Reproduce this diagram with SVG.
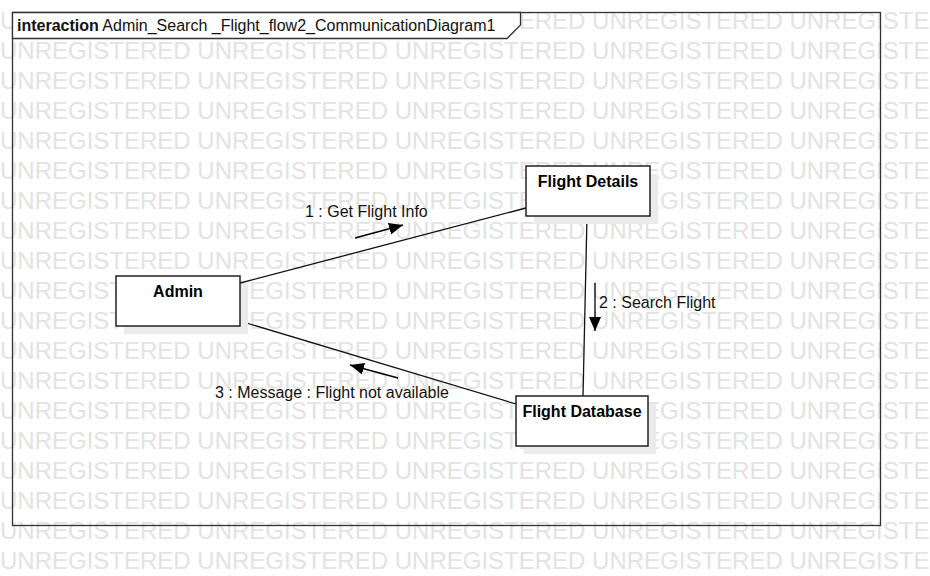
<svg xmlns="http://www.w3.org/2000/svg" width="930" height="576" viewBox="0 0 930 576">
<style>
text{font-family:"Liberation Sans",Arial,sans-serif;}
.wm{font-size:24px;fill:#e3e3e3;}
.box{fill:#fff;stroke:#222;stroke-width:1.5;}
.shadow{fill:#ebebeb;}
.name{font-size:16px;font-weight:bold;fill:#000;text-anchor:middle;}
.lbl{font-size:16px;fill:#111;}
.conn{stroke:#111;stroke-width:1.3;fill:none;}
.msg{stroke:#000;stroke-width:1.3;fill:none;}
</style>
<defs>
<marker id="ah2" viewBox="0 0 14 12" refX="14" refY="6" markerWidth="14" markerHeight="12" markerUnits="userSpaceOnUse" orient="auto">
<path d="M0,0 L14,6 L0,12 Z" fill="#000"/>
</marker>
</defs>
<rect width="930" height="576" fill="#fff"/>
<g id="watermark">
<text class="wm" x="0" y="29">UNREGISTERED UNREGISTERED UNREGISTERED UNREGISTERED UNREGISTERED</text>
<text class="wm" x="0" y="59">UNREGISTERED UNREGISTERED UNREGISTERED UNREGISTERED UNREGISTERED</text>
<text class="wm" x="0" y="89">UNREGISTERED UNREGISTERED UNREGISTERED UNREGISTERED UNREGISTERED</text>
<text class="wm" x="0" y="119">UNREGISTERED UNREGISTERED UNREGISTERED UNREGISTERED UNREGISTERED</text>
<text class="wm" x="0" y="149">UNREGISTERED UNREGISTERED UNREGISTERED UNREGISTERED UNREGISTERED</text>
<text class="wm" x="0" y="179">UNREGISTERED UNREGISTERED UNREGISTERED UNREGISTERED UNREGISTERED</text>
<text class="wm" x="0" y="209">UNREGISTERED UNREGISTERED UNREGISTERED UNREGISTERED UNREGISTERED</text>
<text class="wm" x="0" y="239">UNREGISTERED UNREGISTERED UNREGISTERED UNREGISTERED UNREGISTERED</text>
<text class="wm" x="0" y="269">UNREGISTERED UNREGISTERED UNREGISTERED UNREGISTERED UNREGISTERED</text>
<text class="wm" x="0" y="299">UNREGISTERED UNREGISTERED UNREGISTERED UNREGISTERED UNREGISTERED</text>
<text class="wm" x="0" y="329">UNREGISTERED UNREGISTERED UNREGISTERED UNREGISTERED UNREGISTERED</text>
<text class="wm" x="0" y="359">UNREGISTERED UNREGISTERED UNREGISTERED UNREGISTERED UNREGISTERED</text>
<text class="wm" x="0" y="389">UNREGISTERED UNREGISTERED UNREGISTERED UNREGISTERED UNREGISTERED</text>
<text class="wm" x="0" y="419">UNREGISTERED UNREGISTERED UNREGISTERED UNREGISTERED UNREGISTERED</text>
<text class="wm" x="0" y="449">UNREGISTERED UNREGISTERED UNREGISTERED UNREGISTERED UNREGISTERED</text>
<text class="wm" x="0" y="479">UNREGISTERED UNREGISTERED UNREGISTERED UNREGISTERED UNREGISTERED</text>
<text class="wm" x="0" y="509">UNREGISTERED UNREGISTERED UNREGISTERED UNREGISTERED UNREGISTERED</text>
<text class="wm" x="0" y="539">UNREGISTERED UNREGISTERED UNREGISTERED UNREGISTERED UNREGISTERED</text>
<text class="wm" x="0" y="569">UNREGISTERED UNREGISTERED UNREGISTERED UNREGISTERED UNREGISTERED</text>
</g>
<g id="frame">
<rect x="12.5" y="12.5" width="868" height="513" fill="none" stroke="#333" stroke-width="1.3"/>
<path d="M12.5,12.5 L520.5,12.5 L520.5,25 L507,38.5 L12.5,38.5 Z" fill="#fff" stroke="#333" stroke-width="1.3"/>
<text x="17" y="31" font-size="16" fill="#111"><tspan font-weight="bold">interaction</tspan> Admin_Search _Flight_flow2_CommunicationDiagram1</text>
</g>
<g id="connectors">
<line class="conn" x1="240" y1="283" x2="526" y2="208"/>
<line class="conn" x1="240" y1="321" x2="516" y2="404"/>
<line class="conn" x1="587" y1="216" x2="583" y2="396"/>
<line class="msg" x1="355" y1="238" x2="403" y2="225" marker-end="url(#ah2)"/>
<text class="lbl" x="305" y="217">1 : Get Flight Info</text>
<line class="msg" x1="595" y1="283" x2="595" y2="331" marker-end="url(#ah2)"/>
<text class="lbl" x="599" y="308">2 : Search Flight</text>
<line class="msg" x1="398" y1="378" x2="350" y2="365" marker-end="url(#ah2)"/>
<text class="lbl" x="215" y="398">3 : Message : Flight not available</text>
</g>
<g id="admin">
<rect class="shadow" x="124" y="284" width="124" height="50"/>
<rect class="box" x="116" y="276" width="124" height="50"/>
<text class="name" x="178" y="297">Admin</text>
</g>
<g id="flight-details">
<rect class="shadow" x="534" y="174" width="124" height="50"/>
<rect class="box" x="526" y="166" width="124" height="50"/>
<text class="name" x="588" y="187">Flight Details</text>
</g>
<g id="flight-database">
<rect class="shadow" x="524" y="404" width="132" height="50"/>
<rect class="box" x="516" y="396" width="132" height="50"/>
<text class="name" x="582" y="417">Flight Database</text>
</g>
</svg>
